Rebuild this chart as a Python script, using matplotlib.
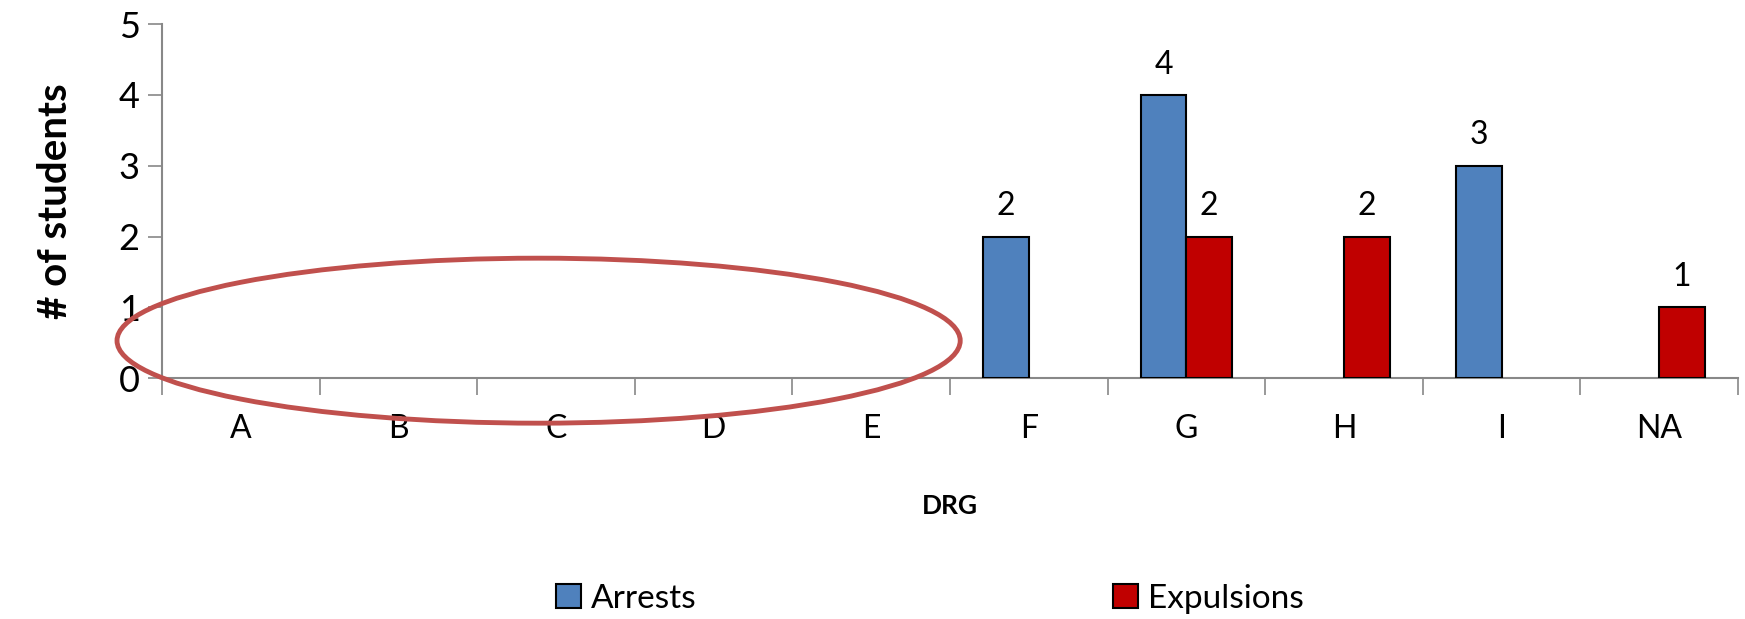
import numpy as np
import matplotlib.pyplot as plt
from matplotlib.patches import Ellipse, Patch

# Dados
categorias = ['A', 'B', 'C', 'D', 'E', 'F', 'G', 'H', 'I', 'NA']
arrests = [0, 0, 0, 0, 0, 2, 4, 0, 3, 0]
expulsions = [0, 0, 0, 0, 0, 0, 2, 2, 0, 1]

cor_arrests = '#4F81BD'
cor_expulsions = '#C00000'
cor_eixo = '#888888'

plt.rcParams['font.family'] = ['Lato', 'DejaVu Sans']

fig = plt.figure(figsize=(17.45, 6.19), dpi=100)
ax = fig.add_axes([0.0928, 0.389, 0.9032, 0.572])

x = np.arange(len(categorias))
largura = 0.29

# Barras com valor zero ficam sem contorno
def contornos(valores):
    return [1.5 if v > 0 else 0 for v in valores]

barras_a = ax.bar(x - largura / 2, arrests, largura, color=cor_arrests,
                  edgecolor='black', linewidth=contornos(arrests), zorder=3)
barras_e = ax.bar(x + largura / 2, expulsions, largura, color=cor_expulsions,
                  edgecolor='black', linewidth=contornos(expulsions), zorder=3)

# Rótulos de valor só para as barras não nulas
for barras, valores in [(barras_a, arrests), (barras_e, expulsions)]:
    for b, v in zip(barras, valores):
        if v > 0:
            ax.annotate(str(v), (b.get_x() + b.get_width() / 2, v),
                        xytext=(0, 11), textcoords='offset points',
                        ha='center', va='bottom', fontsize=23)

ax.set_xlim(-0.5, len(categorias) - 0.5)
ax.set_ylim(0, 5)
ax.set_yticks(range(6))
ax.tick_params(axis='y', labelsize=26, length=10, width=1.2, color=cor_eixo, pad=6)

# Ticks do eixo x nas fronteiras entre categorias
ax.set_xticks(np.arange(len(categorias) + 1) - 0.5)
ax.set_xticklabels([])
ax.set_xticks(x, minor=True)
ax.set_xticklabels(categorias, minor=True)
ax.tick_params(axis='x', which='major', length=12, width=1.2, color=cor_eixo)
ax.tick_params(axis='x', which='minor', length=0, labelsize=23, pad=26)

for lado in ['top', 'right']:
    ax.spines[lado].set_visible(False)
for lado in ['left', 'bottom']:
    ax.spines[lado].set_color(cor_eixo)
    ax.spines[lado].set_linewidth(1.5)

ax.set_ylabel('# of students', fontsize=29, fontweight='bold', labelpad=32)
ax.set_xlabel('DRG', fontsize=19, fontweight='bold', labelpad=36)

# Elipse destacando as categorias sem ocorrências
elipse = Ellipse((1.89, 0.53), 5.35, 2.33, fill=False, edgecolor='#C0504D',
                 linewidth=3.5, clip_on=False, zorder=4)
ax.add_patch(elipse)

itens = [Patch(facecolor=cor_arrests, edgecolor='black', linewidth=1.5, label='Arrests'),
         Patch(facecolor=cor_expulsions, edgecolor='black', linewidth=1.5, label='Expulsions')]
fig.legend(handles=itens, loc='lower center', bbox_to_anchor=(0.533, -0.04), ncol=2,
           frameon=False, fontsize=24, columnspacing=12.5, handlelength=0.75,
           handleheight=0.75, handletextpad=0.3)

fig.savefig('out.png', dpi=100)
